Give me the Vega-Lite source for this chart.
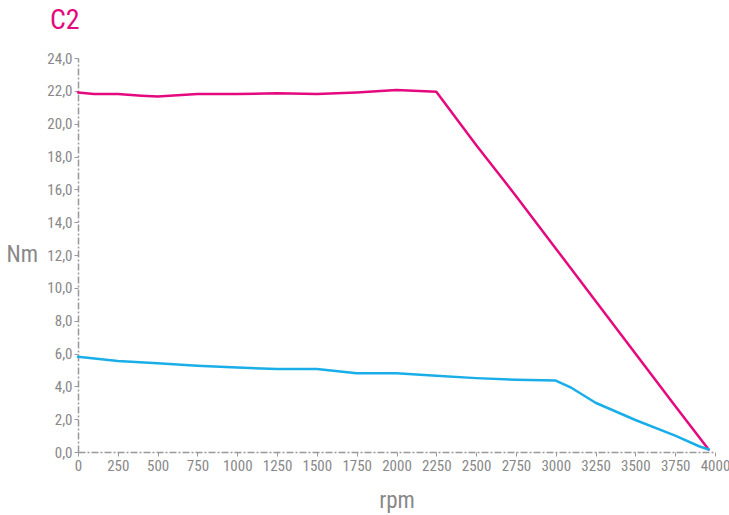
{
  "$schema": "https://vega.github.io/schema/vega-lite/v6.json",
  "width": 637,
  "height": 394,
  "autosize": {"type": "none"},
  "padding": {"left": 78, "top": 58, "right": 14, "bottom": 63},
  "background": "white",
  "title": {"text": "C2", "anchor": "start", "frame": "group", "dx": -28, "offset": 16, "fontSize": 28, "font": "Roboto Condensed, DejaVu Sans Condensed, Roboto", "fontWeight": "normal", "color": "#E4097E"},
  "data": {"values": [
    {"rpm": 0, "nm": 21.9, "series": "peak"},
    {"rpm": 100, "nm": 21.8, "series": "peak"},
    {"rpm": 250, "nm": 21.8, "series": "peak"},
    {"rpm": 400, "nm": 21.7, "series": "peak"},
    {"rpm": 500, "nm": 21.65, "series": "peak"},
    {"rpm": 750, "nm": 21.8, "series": "peak"},
    {"rpm": 1000, "nm": 21.8, "series": "peak"},
    {"rpm": 1250, "nm": 21.85, "series": "peak"},
    {"rpm": 1500, "nm": 21.8, "series": "peak"},
    {"rpm": 1750, "nm": 21.9, "series": "peak"},
    {"rpm": 2000, "nm": 22.05, "series": "peak"},
    {"rpm": 2250, "nm": 21.95, "series": "peak"},
    {"rpm": 2500, "nm": 18.7, "series": "peak"},
    {"rpm": 2750, "nm": 15.6, "series": "peak"},
    {"rpm": 3000, "nm": 12.4, "series": "peak"},
    {"rpm": 3250, "nm": 9.2, "series": "peak"},
    {"rpm": 3500, "nm": 6.0, "series": "peak"},
    {"rpm": 3750, "nm": 2.8, "series": "peak"},
    {"rpm": 3960, "nm": 0.15, "series": "peak"},
    {"rpm": 0, "nm": 5.8, "series": "cont"},
    {"rpm": 250, "nm": 5.55, "series": "cont"},
    {"rpm": 500, "nm": 5.4, "series": "cont"},
    {"rpm": 750, "nm": 5.25, "series": "cont"},
    {"rpm": 1000, "nm": 5.15, "series": "cont"},
    {"rpm": 1250, "nm": 5.05, "series": "cont"},
    {"rpm": 1500, "nm": 5.05, "series": "cont"},
    {"rpm": 1750, "nm": 4.8, "series": "cont"},
    {"rpm": 2000, "nm": 4.8, "series": "cont"},
    {"rpm": 2250, "nm": 4.65, "series": "cont"},
    {"rpm": 2500, "nm": 4.5, "series": "cont"},
    {"rpm": 2750, "nm": 4.4, "series": "cont"},
    {"rpm": 3000, "nm": 4.35, "series": "cont"},
    {"rpm": 3100, "nm": 3.9, "series": "cont"},
    {"rpm": 3250, "nm": 3.0, "series": "cont"},
    {"rpm": 3500, "nm": 1.95, "series": "cont"},
    {"rpm": 3750, "nm": 1.0, "series": "cont"},
    {"rpm": 3900, "nm": 0.35, "series": "cont"},
    {"rpm": 3960, "nm": 0.15, "series": "cont"}
  ]},
  "mark": {"type": "line", "strokeWidth": 2.5, "strokeCap": "round", "strokeJoin": "round"},
  "encoding": {
    "x": {"field": "rpm", "type": "quantitative",
      "scale": {"domain": [0, 4000], "nice": false},
      "axis": {"values": [0,250,500,750,1000,1250,1500,1750,2000,2250,2500,2750,3000,3250,3500,3750,4000], "format": "d", "title": "rpm", "titleFontSize": 23, "titlePadding": 16, "grid": false}},
    "y": {"field": "nm", "type": "quantitative",
      "scale": {"domain": [0, 24], "nice": false},
      "axis": {"values": [0,2,4,6,8,10,12,14,16,18,20,22,24], "labelExpr": "replace(format(datum.value, '.1f'), '.', ',')", "title": "Nm", "titleAngle": 0, "titleFontSize": 23, "titleX": -72, "titleY": 196, "titleAlign": "left", "titleBaseline": "middle", "grid": false}},
    "color": {"field": "series", "type": "nominal", "scale": {"domain": ["peak", "cont"], "range": ["#E4097E", "#1AAEE8"]}, "legend": null}
  },
  "config": {
    "view": {"stroke": null},
    "axis": {
      "labelFont": "Roboto Condensed, DejaVu Sans Condensed, Roboto", "titleFont": "Roboto Condensed, DejaVu Sans Condensed, Roboto",
      "labelFontSize": 15, "labelColor": "#888888", "titleColor": "#888888", "titleFontWeight": "normal",
      "labelFlush": false, "labelOverlap": false,
      "domainColor": "#999999", "domainWidth": 1.5, "domainDash": [7, 2, 2, 2],
      "tickColor": "#999999", "tickSize": 4, "labelPadding": 2
    }
  }
}
